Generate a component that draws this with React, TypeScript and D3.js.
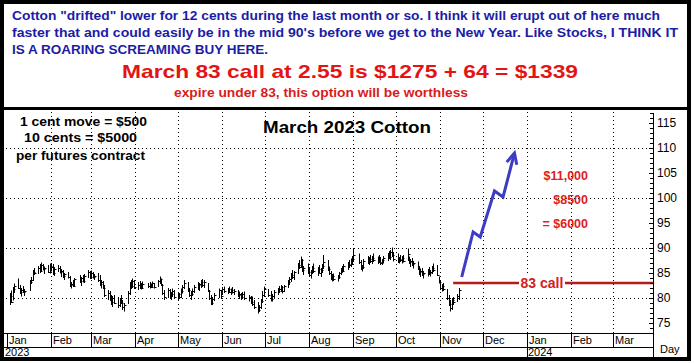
// @ts-nocheck
import { useRef, useEffect } from "react";
import * as d3 from "d3";

// daily bars: [day, high, low, close]
const jan23 = [
  [3, 81.0, 78.6, 80.5], [4, 81.5, 79.0, 79.3], [5, 82.2, 79.5, 81.8], [6, 82.9, 81.0, 82.5],
  [9, 83.9, 81.8, 82.0], [10, 82.6, 80.8, 81.2], [11, 82.0, 80.3, 81.6], [12, 82.4, 81.0, 81.3],
  [13, 81.8, 80.4, 81.5], [17, 83.6, 81.4, 83.3], [18, 84.2, 82.8, 83.6], [19, 85.6, 83.4, 85.2],
  [20, 86.0, 84.6, 85.0], [23, 86.4, 84.8, 86.1], [24, 86.8, 85.0, 85.4], [25, 87.1, 85.2, 86.6],
  [26, 86.8, 85.5, 85.8], [27, 86.3, 84.8, 86.0], [30, 86.6, 85.0, 85.3], [31, 86.9, 84.9, 86.5],
];
const feb23 = [
  [1, 87.0, 85.3, 86.2], [2, 86.8, 84.6, 85.0], [3, 86.2, 84.4, 85.8], [6, 86.6, 85.2, 86.0],
  [7, 86.4, 84.9, 85.3], [8, 85.8, 84.2, 85.4], [9, 85.6, 84.0, 84.4], [10, 85.0, 83.6, 84.8],
  [13, 85.2, 83.9, 84.2], [14, 84.4, 82.2, 82.6], [15, 83.2, 81.9, 82.8], [16, 83.6, 82.2, 82.5],
  [17, 84.0, 82.3, 83.8], [21, 84.6, 83.0, 83.4], [22, 84.2, 82.4, 84.0], [23, 84.6, 83.1, 83.5],
  [24, 84.8, 83.0, 84.4], [27, 85.6, 84.0, 85.2], [28, 85.4, 83.8, 84.2],
];
const mar23 = [
  [1, 85.5, 83.8, 85.0], [2, 85.2, 83.9, 84.2], [3, 84.8, 83.6, 84.5], [6, 85.0, 83.2, 83.6],
  [7, 84.6, 82.4, 82.8], [8, 83.6, 81.9, 83.2], [9, 83.4, 81.8, 82.0], [10, 82.6, 80.2, 80.6],
  [13, 81.6, 79.6, 81.0], [14, 81.4, 79.4, 79.8], [15, 80.6, 78.6, 79.2], [16, 80.4, 78.2, 80.0],
  [17, 80.6, 78.8, 79.1], [20, 80.2, 78.0, 78.6], [21, 80.0, 78.2, 79.6], [22, 80.6, 78.8, 79.0],
  [23, 79.6, 77.6, 78.2], [24, 79.0, 77.3, 78.6], [27, 81.4, 78.8, 81.0], [28, 83.2, 80.6, 82.8],
  [29, 83.6, 81.8, 82.4], [30, 83.9, 82.0, 83.4], [31, 83.6, 81.8, 82.2],
];
const apr23 = [
  [3, 83.2, 81.6, 82.6], [4, 83.4, 81.8, 83.0], [5, 83.0, 81.7, 82.1], [6, 83.3, 81.9, 82.9],
  [10, 83.0, 82.0, 82.4], [11, 83.2, 81.9, 82.8], [12, 82.9, 82.0, 82.3], [13, 83.3, 82.0, 83.0],
  [14, 83.0, 81.9, 82.2], [17, 83.6, 82.2, 83.4], [18, 84.3, 82.8, 83.8], [19, 83.9, 82.4, 82.7],
  [20, 82.8, 80.6, 81.0], [21, 81.6, 79.6, 80.2], [24, 82.0, 80.0, 81.6], [25, 81.8, 79.8, 80.4],
  [26, 81.2, 79.6, 80.8], [27, 81.9, 80.2, 81.4], [28, 81.6, 79.9, 80.3],
];
const may23 = [
  [1, 81.2, 79.6, 80.8], [2, 81.0, 79.8, 80.2], [3, 81.9, 80.0, 81.5], [4, 82.6, 80.9, 82.2],
  [5, 83.6, 81.8, 83.0], [8, 83.2, 81.2, 81.6], [9, 82.0, 80.2, 80.6], [10, 81.4, 79.6, 80.9],
  [11, 81.9, 80.4, 81.4], [12, 82.6, 81.0, 82.2], [15, 83.2, 81.6, 82.6], [16, 83.0, 81.4, 82.8],
  [17, 83.6, 82.0, 83.2], [18, 83.8, 82.2, 82.6], [19, 83.6, 82.0, 83.3], [22, 83.0, 81.2, 81.5],
  [23, 81.6, 79.6, 80.0], [24, 80.6, 78.6, 79.0], [25, 80.2, 78.6, 79.8], [26, 81.0, 79.4, 80.6],
  [30, 81.9, 80.0, 81.6], [31, 81.6, 79.8, 80.4],
];
const jun23 = [
  [1, 82.2, 80.6, 81.8], [2, 82.3, 81.0, 81.4], [5, 82.0, 80.8, 81.9], [6, 82.3, 81.0, 81.3],
  [7, 81.9, 80.6, 81.6], [8, 82.2, 80.9, 81.2], [9, 81.8, 80.6, 81.5], [12, 81.6, 80.2, 80.6],
  [13, 81.3, 79.8, 80.8], [14, 81.0, 79.6, 80.2], [15, 81.2, 79.9, 80.9], [16, 81.3, 79.6, 80.0],
  [20, 80.6, 79.3, 80.2], [21, 80.4, 78.8, 79.2], [22, 80.3, 78.4, 78.8], [23, 79.6, 77.8, 78.2],
  [26, 79.2, 76.9, 77.6], [27, 78.6, 77.2, 78.2], [28, 79.8, 77.8, 79.4], [29, 81.4, 79.0, 80.6],
  [30, 82.3, 80.2, 81.8],
];
const jul23 = [
  [3, 81.8, 80.2, 80.6], [5, 81.4, 79.3, 79.8], [6, 80.8, 79.3, 80.4], [7, 81.6, 79.8, 81.2],
  [10, 82.0, 80.6, 81.5], [11, 82.4, 81.0, 81.8], [12, 82.6, 81.2, 82.2], [13, 82.4, 80.9, 81.4],
  [14, 82.6, 81.2, 82.4], [17, 83.6, 82.0, 83.2], [18, 84.2, 82.6, 83.8], [19, 85.0, 83.2, 84.6],
  [20, 85.6, 83.8, 84.2], [21, 85.4, 83.6, 85.2], [24, 87.0, 84.8, 86.6], [25, 87.6, 85.8, 86.2],
  [26, 88.3, 86.0, 87.6], [27, 87.8, 85.2, 85.6], [28, 86.4, 84.6, 86.0], [31, 86.9, 84.8, 85.2],
];
const aug23 = [
  [1, 86.2, 84.2, 84.6], [2, 85.6, 83.9, 85.2], [3, 86.4, 84.8, 86.0], [4, 86.9, 85.0, 85.4],
  [7, 86.2, 84.4, 85.8], [8, 86.6, 84.9, 85.0], [9, 86.0, 84.2, 85.6], [10, 86.8, 85.0, 86.4],
  [11, 88.6, 85.8, 87.2], [14, 87.6, 85.4, 85.8], [15, 86.3, 84.6, 85.0], [16, 85.4, 83.6, 84.0],
  [17, 84.8, 83.3, 84.4], [18, 84.9, 83.4, 83.8], [21, 84.6, 83.3, 84.2], [22, 85.2, 83.8, 84.9],
  [23, 86.0, 84.6, 85.6], [24, 86.4, 85.0, 85.4], [25, 86.8, 85.2, 86.4], [28, 87.2, 85.6, 86.8],
  [29, 87.6, 86.0, 86.6], [30, 87.9, 86.2, 87.4], [31, 88.4, 86.6, 87.8],
];
const sep23 = [
  [1, 89.9, 87.2, 88.6], [5, 88.9, 86.8, 87.2], [6, 87.6, 85.6, 86.0], [7, 86.6, 85.3, 86.2],
  [8, 87.8, 85.8, 87.4], [11, 88.4, 86.8, 87.2], [12, 88.2, 86.6, 87.8], [13, 88.6, 87.0, 87.4],
  [14, 88.4, 86.8, 88.0], [15, 88.9, 87.2, 87.6], [18, 88.3, 86.8, 87.9], [19, 88.6, 87.0, 87.3],
  [20, 88.2, 86.6, 87.0], [21, 87.8, 86.6, 87.6], [22, 88.4, 86.9, 88.1], [25, 89.0, 87.4, 88.6],
  [26, 89.4, 87.8, 88.2], [27, 89.6, 87.6, 89.2], [28, 90.1, 88.2, 88.6], [29, 89.2, 87.3, 87.8],
];
const oct23 = [
  [2, 88.9, 87.0, 87.4], [3, 88.2, 86.9, 87.8], [4, 88.6, 87.2, 87.6], [5, 88.4, 86.9, 88.0],
  [6, 88.6, 87.1, 87.5], [9, 89.9, 87.4, 88.8], [10, 88.3, 86.8, 87.2], [11, 87.8, 86.2, 87.4],
  [12, 88.0, 86.4, 86.8], [13, 87.4, 85.9, 87.0], [16, 87.3, 85.6, 85.9], [17, 86.4, 84.6, 85.2],
  [18, 85.8, 84.2, 85.4], [19, 86.0, 84.4, 84.8], [20, 85.4, 83.9, 85.0], [23, 85.8, 84.3, 85.4],
  [24, 86.2, 84.6, 85.0], [25, 85.6, 84.3, 85.2], [26, 86.4, 84.8, 86.0], [27, 86.9, 85.2, 85.6],
  [30, 86.6, 84.4, 84.6], [31, 84.3, 82.9, 83.2],
];
const nov23 = [
  [1, 83.6, 81.6, 82.0], [2, 82.8, 81.3, 82.4], [3, 83.0, 81.4, 81.8], [6, 81.8, 79.6, 80.0],
  [7, 80.6, 78.4, 78.8], [8, 79.6, 77.3, 78.0], [9, 80.0, 77.6, 79.6], [10, 80.2, 78.6, 79.2],
  [13, 80.8, 79.2, 80.4], [14, 82.0, 79.6, 81.6],
];
const months2023 = [jan23, feb23, mar23, apr23, may23, jun23, jul23, aug23, sep23, oct23, nov23];

// hand drawn projection arrow: [date, price]
const arrowPts = [
  ["2023-11-16", 84.2], ["2023-11-24", 93.2], ["2023-11-29", 92.2],
  ["2023-12-09", 101.4], ["2023-12-15", 100.2], ["2023-12-23", 109.0],
];
const callStrike = 83;
const callStart = "2023-11-10";
const priceTicks = [75, 80, 85, 90, 95, 100, 105, 110, 115];
const gridPrices = [80, 90, 100, 110];

const headLines = [
  'Cotton "drifted" lower for 12 cents during the last month or so. I think it will erupt out of here much',
  "faster that and could easily be in the mid 90's before we get to the New Year. Like Stocks, I THINK IT",
  "IS A ROARING SCREAMING BUY HERE.",
];
const offerText = "March 83 call at 2.55 is $1275 + 64 = $1339";
const expireText = "expire under 83, this option will be worthless";
const contractNotes = ["1 cent move = $500", "10 cents = $5000", "per futures contract"];
const profitNotes = ["$11,000", "$8500", "= $6000"];

const utc = (s) => new Date(s + "T00:00:00Z");

export default function App() {
  const ref = useRef(null);

  useEffect(() => {
    document.body.style.margin = "0";
    const svg = d3.select(ref.current);
    svg.selectAll("*").remove();

    const W = 694, H = 363;
    const plotL = 4, plotR = 653, plotT = 110, plotB = 333, yearB = 347;

    const x = d3
      .scaleUtc()
      .domain([utc("2023-01-01"), utc("2024-04-01")])
      .range([7, 657]);
    const y = d3.scaleLinear().domain([75, 115]).range([323, 123]);

    const bars = months2023.flatMap((rows, m) =>
      rows.map(([d, h, l, c]) => ({ date: new Date(Date.UTC(2023, m, d)), h, l, c }))
    );

    svg.attr("width", W).attr("height", H).style("display", "block");
    svg.append("rect").attr("width", W).attr("height", H).attr("fill", "#fff");

    const sans = "Liberation Sans, Arial, sans-serif";

    // header text
    const head = svg.append("g").attr("font-family", sans).attr("font-weight", "bold");
    const headW = [648, 666, 256];
    headLines.forEach((t, i) => {
      head.append("text")
        .attr("x", 12).attr("y", 20 + i * 17)
        .attr("font-size", 12.5).attr("fill", "#1c1ca6")
        .attr("textLength", headW[i]).attr("lengthAdjust", "spacingAndGlyphs")
        .text(t);
    });
    head.append("text")
      .attr("x", 122).attr("y", 78).attr("font-size", 19).attr("fill", "#e41414")
      .attr("textLength", 456).attr("lengthAdjust", "spacingAndGlyphs")
      .text(offerText);
    head.append("text")
      .attr("x", 174).attr("y", 97).attr("font-size", 12).attr("fill", "#d81c1c")
      .attr("textLength", 294).attr("lengthAdjust", "spacingAndGlyphs")
      .text(expireText);

    // grid
    const grid = svg.append("g").attr("stroke", "#000").attr("stroke-width", 1)
      .attr("stroke-dasharray", "1,3");
    const months = d3.utcMonths(utc("2023-02-01"), utc("2024-04-01"));
    grid.selectAll("line.v").data(months).join("line")
      .attr("x1", (d) => Math.round(x(d)) + 0.5).attr("x2", (d) => Math.round(x(d)) + 0.5)
      .attr("y1", plotT + 2).attr("y2", plotB);
    grid.selectAll("line.h").data(gridPrices).join("line")
      .attr("x1", plotL + 2).attr("x2", plotR)
      .attr("y1", (d) => Math.round(y(d)) + 0.5).attr("y2", (d) => Math.round(y(d)) + 0.5);

    // price bars
    const barG = svg.append("g").attr("stroke", "#000").attr("stroke-width", 1);
    bars.forEach((b) => {
      const bx = Math.round(x(b.date)) + 0.5;
      barG.append("line").attr("x1", bx).attr("x2", bx).attr("y1", y(b.h)).attr("y2", y(b.l));
      barG.append("line").attr("x1", bx).attr("x2", bx + 2)
        .attr("y1", Math.round(y(b.c)) + 0.5).attr("y2", Math.round(y(b.c)) + 0.5);
    });

    // 83 call line
    const cy = y(callStrike);
    svg.append("line")
      .attr("x1", x(utc(callStart))).attr("x2", plotR)
      .attr("y1", cy).attr("y2", cy)
      .attr("stroke", "#b41c1c").attr("stroke-width", 2.5);
    svg.append("rect").attr("x", 519).attr("y", cy - 8).attr("width", 46).attr("height", 15)
      .attr("fill", "#fff");
    svg.append("text").attr("x", 542).attr("y", cy + 5).attr("text-anchor", "middle")
      .attr("font-family", sans).attr("font-weight", "bold").attr("font-size", 14)
      .attr("fill", "#d42020").text("83 call");

    // arrow
    const pts = arrowPts.map(([d, p]) => [x(utc(d)), y(p)]);
    svg.append("path")
      .attr("d", d3.line()(pts))
      .attr("fill", "none").attr("stroke", "#3c3cc4").attr("stroke-width", 3)
      .attr("stroke-linejoin", "miter");
    const [tx, ty] = pts[pts.length - 1];
    const [px, py] = pts[pts.length - 2];
    const ang = Math.atan2(py - ty, px - tx);
    const barb = (a) => [tx + 12 * Math.cos(ang + a), ty + 12 * Math.sin(ang + a)];
    svg.append("path")
      .attr("d", d3.line()([barb(0.45), [tx, ty], barb(-0.45)]))
      .attr("fill", "none").attr("stroke", "#3c3cc4").attr("stroke-width", 3);

    // annotations
    const ann = svg.append("g").attr("font-family", sans).attr("font-weight", "bold");
    ann.append("text").attr("x", 263).attr("y", 133).attr("font-size", 16).attr("fill", "#000")
      .attr("textLength", 168).attr("lengthAdjust", "spacingAndGlyphs").text("March 2023 Cotton");
    const noteX = [20, 24, 16], noteW = [127, 113, 129], noteY = [126, 142, 160];
    contractNotes.forEach((t, i) => {
      ann.append("text").attr("x", noteX[i]).attr("y", noteY[i]).attr("font-size", 12)
        .attr("fill", "#000").attr("textLength", noteW[i]).attr("lengthAdjust", "spacingAndGlyphs")
        .text(t);
    });
    profitNotes.forEach((t, i) => {
      ann.append("text").attr("x", 588).attr("y", 180 + i * 24).attr("text-anchor", "end")
        .attr("font-size", 12.5).attr("fill", "#e01c1c").text(t);
    });

    // axes frame
    const axis = svg.append("g").attr("stroke", "#000").attr("stroke-width", 1);
    axis.append("line").attr("x1", plotR + 0.5).attr("x2", plotR + 0.5).attr("y1", 113).attr("y2", 358);
    axis.append("line").attr("x1", plotL).attr("x2", plotR).attr("y1", plotB + 0.5).attr("y2", plotB + 0.5);
    axis.append("line").attr("x1", plotL).attr("x2", plotR).attr("y1", yearB + 0.5).attr("y2", yearB + 0.5);
    const allMonths = d3.utcMonths(utc("2023-01-01"), utc("2024-04-01"));
    axis.selectAll("line.mt").data(allMonths).join("line")
      .attr("x1", (d) => Math.round(x(d)) + 0.5).attr("x2", (d) => Math.round(x(d)) + 0.5)
      .attr("y1", plotB).attr("y2", yearB);
    axis.append("line").attr("x1", Math.round(x(utc("2024-01-01"))) + 0.5)
      .attr("x2", Math.round(x(utc("2024-01-01"))) + 0.5).attr("y1", yearB).attr("y2", 358);
    axis.selectAll("line.yt").data(d3.range(74, 118)).join("line")
      .attr("x1", (d) => plotR - (d % 5 === 0 ? 4 : 3)).attr("x2", plotR)
      .attr("y1", (d) => Math.round(y(d)) + 0.5).attr("y2", (d) => Math.round(y(d)) + 0.5);

    const lab = svg.append("g").attr("font-family", sans).attr("font-size", 11).attr("fill", "#000");
    lab.selectAll("text.m").data(allMonths).join("text")
      .attr("x", (d) => Math.round(x(d)) + 2).attr("y", 344)
      .text(d3.utcFormat("%b"));
    lab.append("text").attr("x", 5).attr("y", 356).text("2023");
    lab.append("text").attr("x", Math.round(x(utc("2024-01-01"))) + 1).attr("y", 356).text("2024");
    lab.selectAll("text.p").data(priceTicks).join("text")
      .attr("x", 657).attr("y", (d) => y(d) + 4).attr("font-size", 12).text((d) => d);
    lab.append("text").attr("x", 660).attr("y", 353).text("Day");

    // borders
    svg.append("rect").attr("x", 2).attr("y", 2).attr("width", 687).attr("height", 357)
      .attr("fill", "none").attr("stroke", "#000").attr("stroke-width", 4);
    svg.append("line").attr("x1", 2).attr("x2", 689).attr("y1", 108.5).attr("y2", 108.5)
      .attr("stroke", "#000").attr("stroke-width", 3);
  }, []);

  return <svg ref={ref}></svg>;
}
